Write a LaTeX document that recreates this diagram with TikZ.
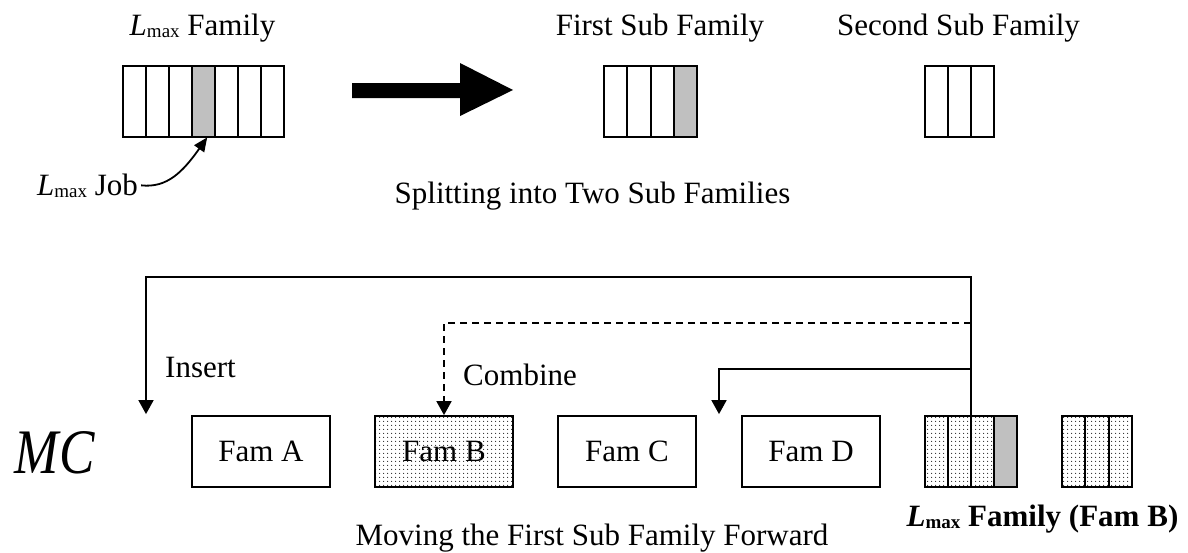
\documentclass[tikz,border=0pt]{standalone}
\usepackage{fontspec}
\setmainfont{Liberation Serif}
\usetikzlibrary{arrows.meta,patterns.meta,calc}

\definecolor{jobgray}{RGB}{192,192,192}
\definecolor{dotgray}{RGB}{40,40,40}

% L_max with a lowered roman subscript
\newcommand\Lmax{\textit{L}\raisebox{-2pt}{\fontsize{19}{19}\selectfont max}}

\tikzset{
  lbl/.style={font=\fontsize{31}{36}\selectfont, inner sep=0pt, anchor=base},
  fambox/.style={draw, line width=1.8pt, minimum width=138pt, minimum height=71pt,
                 inner sep=0pt, font=\fontsize{31}{36}\selectfont},
  dotfill/.style={pattern={Dots[distance=4pt,radius=0.75pt]}, pattern color=dotgray},
  slotrow/.style={minimum height=71pt, inner sep=0pt, anchor=north west},
  cellline/.style={line width=2pt},
  link/.style={line width=1.8pt, -{Triangle[length=14pt,width=15pt]}},
  pointer/.style={line width=1.8pt, -{Triangle[length=14pt,width=12pt]}},
}

\begin{document}
\begin{tikzpicture}[x=1pt,y=-1pt]
\useasboundingbox (0,0) rectangle (1188,552);

% ---------- upper part: splitting ----------
\node[lbl] (tfam) at (202.5,35) {\Lmax{} Family};
\node[lbl] (tsub1) at (660,35) {First Sub Family};
\node[lbl] (tsub2) at (958.5,35) {Second Sub Family};

% original family: seven jobs, the fourth is the L_max job
\node[slotrow, minimum width=161pt] (lfam) at (123,66) {};
\fill[jobgray] ([xshift=69pt]lfam.south west) rectangle ([xshift=92pt]lfam.north west);
\draw[cellline] (lfam.north west) rectangle (lfam.south east);
\foreach \k in {1,...,6}
  \draw[cellline] ([xshift=\k*23pt]lfam.north west) -- ([xshift=\k*23pt]lfam.south west);

% first sub family: four jobs, the last is the L_max job
\node[slotrow, minimum width=93pt] (sub1) at (604,66) {};
\fill[jobgray] ([xshift=69.75pt]sub1.south west) rectangle (sub1.north east);
\draw[cellline] (sub1.north west) rectangle (sub1.south east);
\foreach \k in {1,...,3}
  \draw[cellline] ([xshift=\k*23.25pt]sub1.north west) -- ([xshift=\k*23.25pt]sub1.south west);

% second sub family: three jobs
\node[slotrow, minimum width=69pt] (sub2) at (925,66) {};
\draw[cellline] (sub2.north west) rectangle (sub2.south east);
\foreach \k in {1,2}
  \draw[cellline] ([xshift=\k*23pt]sub2.north west) -- ([xshift=\k*23pt]sub2.south west);

% thick block arrow
\fill (352,83) -- (460,83) -- (460,63) -- (513,90) -- (460,116) -- (460,98) -- (352,98) -- cycle;

\node[lbl, anchor=base west] (job) at (37,195) {\Lmax{} Job};
\coordinate (jobtip) at ([xshift=3.5pt]lfam.south);
\draw[pointer] ([xshift=3pt,yshift=0pt]job.east) .. controls +(26,3) and +(-24,34) .. (jobtip);

\node[lbl] (split) at (592.5,203) {Splitting into Two Sub Families};

% ---------- lower part: machine sequence ----------
\node (mc) at (55,453) {\resizebox{80pt}{42pt}{\textit{MC}}};

\node[fambox] (famA) at (261,451.5) {Fam A};
\node[fambox, dotfill] (famB) at (444,451.5) {Fam B};
\node[fambox] (famC) at (627,451.5) {Fam C};
\node[fambox] (famD) at (811,451.5) {Fam D};

% L_max family (Fam B) after splitting
\node[slotrow, minimum width=92pt] (lfamB) at (925,416) {};
\fill[dotfill] (lfamB.north west) rectangle ([xshift=69pt]lfamB.south west);
\fill[jobgray] ([xshift=69pt]lfamB.south west) rectangle (lfamB.north east);
\draw[cellline] (lfamB.north west) rectangle (lfamB.south east);
\foreach \k in {1,...,3}
  \draw[cellline] ([xshift=\k*23pt]lfamB.north west) -- ([xshift=\k*23pt]lfamB.south west);

\node[slotrow, minimum width=70pt] (restB) at (1062,416) {};
\fill[dotfill] (restB.north west) rectangle (restB.south east);
\draw[cellline] (restB.north west) rectangle (restB.south east);
\foreach \k in {1,2}
  \draw[cellline] ([xshift=\k*23.33pt]restB.north west) -- ([xshift=\k*23.33pt]restB.south west);

% insertion points
\coordinate (trunk) at ([xshift=46pt]lfamB.north west);
\coordinate (ins) at ([xshift=-115pt,yshift=1pt]famA.north);
\coordinate (mov) at ([xshift=-92pt,yshift=1pt]famD.north);

\draw[link] (trunk) -- ++(0,-139) -| (ins);
\draw[link, dash pattern=on 7pt off 5pt] ($(trunk)+(0,-93)$) -| (famB.north);
\draw[link] ($(trunk)+(0,-47)$) -| (mov);

\node[lbl, anchor=base west] (insert) at (165,377) {Insert};
\node[lbl, anchor=base west] (combine) at (463,385) {Combine};

\node[lbl] (lbB) at (1042.5,526) {\bfseries\Lmax{} Family (Fam B)};
\node[lbl] (moving) at (592,545) {Moving the First Sub Family Forward};
\end{tikzpicture}
\end{document}
